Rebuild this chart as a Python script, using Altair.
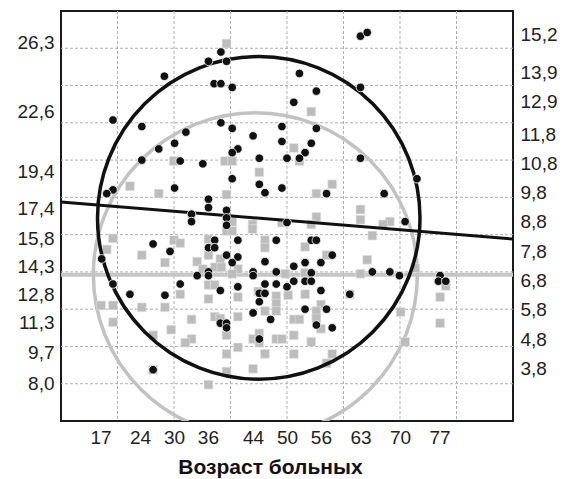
import altair as alt
import pandas as pd

# ---- tick labels ----
x_ticks = [17, 24, 30, 36, 44, 50, 56, 63, 70, 77]
left_ticks = [8.0, 9.7, 11.3, 12.8, 14.3, 15.8, 17.4, 19.4, 22.6, 26.3]
right_ticks = [3.8, 4.8, 5.8, 6.8, 7.8, 8.8, 9.8, 10.8, 11.8, 12.9, 13.9, 15.2]

# ---- grid ----
grid_age = [20, 30, 40, 50, 60, 70, 80]
grid_val = [8, 10, 12, 14, 16, 18, 20, 22, 24, 26]

# ---- black dots (age, value) ----
black_age = [
    28.3, 19.2, 24.3, 27.3, 30.1, 24.3, 19.2, 18.1, 30.1, 38.3,
    36.1, 39.3, 37.1, 38.3, 40.3, 32.1, 38.3, 40.3, 44.0, 49.1,
    49.1, 41.3, 40.3, 31.1, 35.1, 45.1, 50.0, 40.3, 45.1, 46.1,
    49.1, 36.1, 36.1, 39.3, 33.1, 39.3, 33.1, 63.0, 64.2, 52.2,
    55.2, 63.0, 51.2, 55.2, 54.3, 53.2, 52.2, 63.0, 57.0, 67.2,
    73.0, 70.9, 69.9, 77.1, 76.8, 78.1, 17.2, 26.3, 29.3, 19.2,
    22.2, 28.4, 26.3, 39.3, 50.0, 37.2, 36.1, 37.2, 41.3, 48.1,
    39.3, 41.3, 40.3, 46.1, 36.1, 34.1, 36.1, 44.0, 44.0, 48.1,
    31.1, 38.2, 41.3, 45.1, 46.1, 45.1, 46.1, 48.1, 44.0, 47.1,
    50.0, 38.2, 39.3, 39.3, 45.1, 54.3, 55.2, 58.0, 51.2, 53.2,
    56.0, 54.3, 65.1, 68.2, 51.2, 53.2, 54.3, 56.0, 61.1, 53.2,
    57.0, 55.2, 58.0,
]
black_val = [
    24.5, 22.15, 21.8, 20.6, 20.9, 20.0, 18.4, 18.2, 18.5, 25.8,
    25.3, 25.3, 24.1, 24.1, 23.9, 21.5, 22.0, 21.7, 21.3, 21.8,
    21.0, 20.6, 20.4, 19.95, 19.8, 20.1, 20.1, 19.0, 18.7, 18.25,
    18.5, 17.9, 17.45, 17.3, 17.1, 16.9, 16.7, 26.65, 26.85, 24.65,
    23.7, 23.9, 23.1, 21.7, 20.9, 20.4, 20.1, 20.1, 18.2, 18.2,
    19.0, 16.7, 13.8, 13.8, 13.5, 13.5, 14.7, 15.5, 15.1, 13.35,
    12.8, 12.75, 8.75, 16.5, 16.65, 15.7, 15.3, 15.3, 15.7, 15.7,
    14.9, 14.8, 14.5, 14.55, 14.0, 13.8, 13.8, 14.0, 13.8, 14.0,
    13.35, 13.0, 13.2, 12.85, 12.85, 12.4, 13.35, 13.35, 11.8, 11.45,
    13.2, 11.25, 11.25, 11.0, 10.4, 15.7, 15.7, 14.9, 14.3, 14.5,
    14.5, 13.95, 14.0, 14.0, 13.5, 13.5, 13.5, 13.0, 12.8, 12.0,
    12.0, 11.15, 11.0,
]

# ---- grey squares (age, value) ----
grey_age = [
    29.95, 22.2, 27.3, 39.3, 39.0, 40.3, 45.1, 39.3, 54.3, 51.2,
    52.2, 58.0, 55.2, 63.0, 55.2, 63.0, 68.2, 67.0, 72.7, 78.1,
    77.1, 77.1, 70.1, 70.9, 19.2, 18.1, 30.0, 24.3, 28.4, 17.1,
    19.2, 24.3, 28.4, 19.2, 29.5, 26.3, 26.3, 39.3, 40.3, 40.3,
    43.9, 43.9, 49.1, 31.1, 36.1, 36.1, 46.1, 46.1, 38.2, 34.1,
    35.1, 37.2, 38.4, 41.3, 40.3, 49.7, 36.1, 37.2, 31.1, 36.1,
    41.3, 44.9, 48.1, 48.1, 48.1, 46.1, 33.1, 37.2, 38.2, 41.3,
    33.1, 32.0, 39.3, 44.0, 45.1, 45.1, 48.1, 49.1, 39.3, 41.3,
    46.1, 39.3, 44.0, 36.1, 54.3, 65.1, 53.2, 57.0, 64.2, 53.2,
    63.0, 50.2, 53.2, 56.0, 55.2, 55.2, 56.0, 51.2, 52.2, 51.2,
    54.3, 51.2, 58.0, 57.0, 61.1,
]
grey_val = [
    19.95, 18.6, 18.2, 26.25, 19.95, 19.95, 19.35, 18.15, 22.6, 20.65,
    19.95, 18.7, 18.2, 17.35, 16.95, 16.8, 16.7, 16.55, 14.2, 13.25,
    12.65, 11.25, 11.85, 10.25, 15.8, 15.2, 15.7, 14.9, 14.5, 12.2,
    12.2, 12.1, 12.1, 11.3, 10.9, 10.6, 8.75, 16.2, 16.2, 16.7,
    16.55, 16.3, 16.65, 15.55, 15.75, 14.9, 15.7, 15.3, 14.7, 14.55,
    14.15, 14.25, 14.25, 14.15, 13.9, 13.9, 13.3, 13.3, 12.8, 12.55,
    12.65, 12.95, 12.7, 12.3, 11.9, 11.9, 11.45, 11.6, 11.5, 11.6,
    10.4, 10.2, 10.6, 10.4, 10.7, 10.2, 10.4, 10.4, 9.6, 9.95,
    9.6, 8.65, 8.8, 7.95, 16.55, 15.95, 15.35, 14.9, 14.65, 13.95,
    13.9, 12.75, 12.8, 12.25, 11.9, 11.5, 10.95, 11.45, 11.45, 10.6,
    10.25, 9.6, 9.6, 9.1, 12.8,
]

# ---- circles (centres), regression line, mean line ----
black_circle_age = [45.0]
black_circle_val = [16.9]
grey_circle_age = [44.4]
grey_circle_val = [13.85]
reg_age = [10, 90]
reg_val = [17.75, 15.76]
mean_val = [13.85]

FONT = "Liberation Sans"
X = alt.Scale(domain=[10, 90], nice=False, zero=False)
YL = alt.Scale(domain=[6, 28], nice=False, zero=False)
YR = alt.Scale(domain=[2, 16], nice=False, zero=False)

xaxis = alt.Axis(values=x_ticks, grid=False, ticks=False, domain=False,
                 labelFont=FONT, labelFontSize=19, labelColor="#222",
                 labelPadding=7, labelOverlap=False,
                 title="Возраст больных", titleFont=FONT, titleFontSize=21,
                 titleFontWeight="bold", titleColor="#111", titlePadding=9,
                 titleX=209, titleAlign="center")
yaxis = alt.Axis(values=left_ticks, grid=False, ticks=False, domain=False,
                 labelFont=FONT, labelFontSize=19, labelColor="#222",
                 labelPadding=7, labelOverlap=False, title=None,
                 labelExpr="replace(format(datum.value, '.1f'), '.', ',')")
yaxis_r = alt.Axis(orient="right", values=right_ticks, grid=False, ticks=False,
                   domain=False, labelFont=FONT, labelFontSize=19,
                   labelColor="#222", labelPadding=7, labelOverlap=False,
                   title=None,
                   labelExpr="replace(format(datum.value, '.1f'), '.', ',')")

def xe(f):
    return alt.X(f + ":Q", scale=X, axis=xaxis)

def ye(f):
    return alt.Y(f + ":Q", scale=YL, axis=yaxis)

grid_v = alt.Chart(pd.DataFrame({"a": grid_age})).mark_rule(
    color="#b0b0b0", strokeWidth=1, strokeDash=[3, 2]).encode(x=xe("a"))
grid_h = alt.Chart(pd.DataFrame({"v": grid_val})).mark_rule(
    color="#b0b0b0", strokeWidth=1, strokeDash=[3, 2]).encode(y=ye("v"))
mean_rule = alt.Chart(pd.DataFrame({"v": mean_val})).mark_rule(
    color="#c6c6c6", strokeWidth=4).encode(y=ye("v"))

grey_circle = alt.Chart(pd.DataFrame({"a": grey_circle_age, "v": grey_circle_val})).mark_point(
    shape="circle", filled=False, stroke="#c2c2c2", strokeWidth=3.5, opacity=1, clip=True
).encode(x=xe("a"), y=ye("v"), size=alt.value(105000))

grey_pts = alt.Chart(pd.DataFrame({"a": grey_age, "v": grey_val})).mark_point(
    shape="square", filled=True, fill="#bcbcbc", stroke="#e6e6e6", strokeWidth=0.6, opacity=1
).encode(x=xe("a"), y=ye("v"), size=alt.value(78))

black_circle = alt.Chart(pd.DataFrame({"a": black_circle_age, "v": black_circle_val})).mark_point(
    shape="circle", filled=False, stroke="#111111", strokeWidth=3.5, opacity=1, clip=True
).encode(x=xe("a"), y=ye("v"), size=alt.value(104000))

reg_line = alt.Chart(pd.DataFrame({"a": reg_age, "v": reg_val})).mark_line(
    color="#111111", strokeWidth=3).encode(x=xe("a"), y=ye("v"))

black_pts = alt.Chart(pd.DataFrame({"a": black_age, "v": black_val})).mark_point(
    shape="circle", filled=True, fill="#111111", stroke="white", strokeWidth=0.8, opacity=1
).encode(x=xe("a"), y=ye("v"), size=alt.value(74))

left = alt.layer(grid_v, grid_h, mean_rule, grey_circle, grey_pts,
                 black_circle, reg_line, black_pts)

right = alt.Chart(pd.DataFrame({"v": right_ticks})).mark_point(opacity=0).encode(
    y=alt.Y("v:Q", scale=YR, axis=yaxis_r))

chart = alt.layer(left, right).resolve_scale(y="independent").properties(
    width=452, height=410,
    padding={"left": 9, "top": 2, "right": 5, "bottom": 5},
    background="white",
).configure_view(stroke="#1a1a1a", strokeWidth=2)

chart.save("out.html", embed_options={"renderer": "svg", "actions": False})
